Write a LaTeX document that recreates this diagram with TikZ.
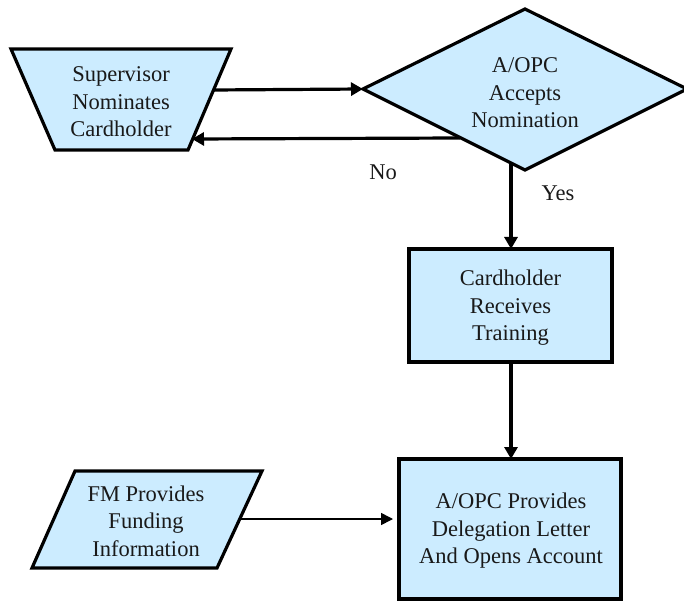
\documentclass[tikz,border=0pt]{standalone}
\usepackage{fontspec}
\setmainfont{Liberation Serif}
\newfontfamily\chartfont{Liberation Serif}
\usetikzlibrary{arrows.meta}
\definecolor{boxfill}{RGB}{204,236,255}
\definecolor{ink}{RGB}{25,25,25}
\tikzset{
  shapeline/.style={draw=black, line width=3.2pt, fill=boxfill, line join=miter},
  flow/.style={draw=black, line width=3.2pt, -{Triangle[length=12pt,width=13pt]}},
  thinflow/.style={draw=black, line width=1.6pt, -{Triangle[length=12pt,width=12pt]}},
  label/.style={text=ink, align=center, font=\chartfont\fontsize{22.5}{27.5}\selectfont, inner sep=0pt},
}
\begin{document}
\begin{tikzpicture}[x=1pt,y=-1pt]
\useasboundingbox (0,0) rectangle (684,601);
\fill[white] (0,0) rectangle (684,601);

% Supervisor step (inverted trapezium)
\draw[shapeline] (11,49) -- (231,49) -- (188,150) -- (55,150) -- cycle;
\node[label] (sup) at (121,102) {Supervisor\\Nominates\\Cardholder};
\coordinate (supOut) at (213.5,90);
\coordinate (supIn) at (192,139);

% Decision diamond
\draw[shapeline] (363,89) -- (525,9) -- (687,89) -- (525,170) -- cycle;
\node[label] (dec) at (525,93) {A/OPC\\Accepts\\Nomination};
\coordinate (decIn) at (363,89);
\coordinate (decNo) at (460,138);
\coordinate (decYes) at (511,163);

% Training box
\draw[shapeline] (409,249) rectangle (612,362);
\node[label] (train) at (510.5,308) {Cardholder\\Receives\\Training};
\coordinate (trainTop) at (511,249);
\coordinate (trainBot) at (511,362);

% Delegation box
\draw[shapeline] (399,459) rectangle (621,599);
\node[label] (deleg) at (511,531) {A/OPC Provides\\Delegation Letter\\And Opens Account};
\coordinate (delegTop) at (511,459);
\coordinate (delegIn) at (393,519);

% Funding input (parallelogram)
\draw[shapeline] (75,471) -- (262,471) -- (217,568) -- (32,568) -- cycle;
\node[label] (fund) at (146,521) {FM Provides\\Funding\\Information};
\coordinate (fundOut) at (239.7,519);

% Connectors
\draw[flow] (supOut) -- (decIn);
\draw[flow] (decNo) -- (supIn);
\draw[flow] (decYes) -- (trainTop);
\draw[flow] (trainBot) -- (delegTop);
\draw[thinflow] (fundOut) -- (delegIn);

% Branch labels
\node[label] (no) at (383,172) {No};
\node[label] (yes) at (558,193) {Yes};
\end{tikzpicture}
\end{document}
